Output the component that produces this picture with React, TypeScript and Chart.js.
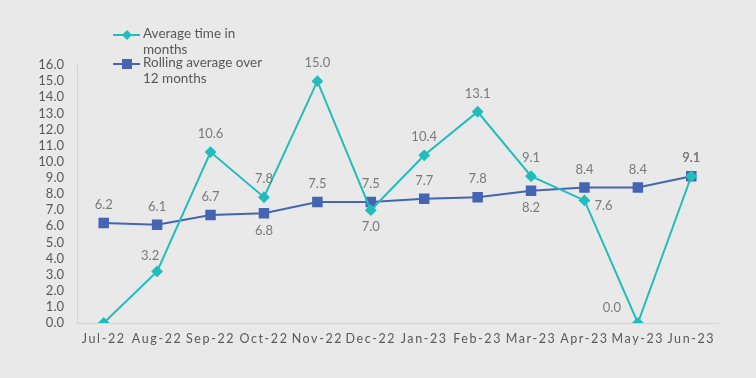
import React, { useEffect, useRef } from "react";
import { Chart, registerables, CategoryScale } from "chart.js";

Chart.register(...registerables);

class SpacedCategoryScale extends CategoryScale {
  static id = "spacedCategory";
  static defaults = (CategoryScale as any).defaults;
  drawLabels(chartArea: any) {
    const ctx = this.ctx as any;
    ctx.save();
    ctx.letterSpacing = "1.6px";
    super.drawLabels(chartArea);
    ctx.restore();
  }
}
Chart.register(SpacedCategoryScale as any);

const categories = ["Jul-22", "Aug-22", "Sep-22", "Oct-22", "Nov-22", "Dec-22", "Jan-23", "Feb-23", "Mar-23", "Apr-23", "May-23", "Jun-23"];
const averageTime = [0.0, 3.2, 10.6, 7.8, 15.0, 7.0, 10.4, 13.1, 9.1, 7.6, 0.0, 9.1];
const rollingAverage = [6.2, 6.1, 6.7, 6.8, 7.5, 7.5, 7.7, 7.8, 8.2, 8.4, 8.4, 9.1];
const legendLines = [["Average time in", "months"], ["Rolling average over", "12 months"]];

const avgLabelPos = ["none", "top-near", "top", "top", "top", "bottom", "top", "top", "top", "right", "top-left", "top"];
const rollLabelPos = ["top", "top", "top", "bottom", "top", "top", "top", "top", "bottom", "top", "top", "top"];

const TEAL = "#21BDBD";
const BLUE = "#4565B2";
const FONT = "Lato, 'Noto Sans', sans-serif";

const labelPlugin = {
  id: "pointLabels",
  afterDatasetsDraw(chart: any) {
    const ctx = chart.ctx;
    ctx.save();
    ctx.font = `13px ${FONT}`;
    ctx.fillStyle = "#7a7a7a";
    const posSets = [avgLabelPos, rollLabelPos];
    chart.data.datasets.forEach((ds: any, di: number) => {
      const meta = chart.getDatasetMeta(di);
      meta.data.forEach((pt: any, i: number) => {
        const pos = posSets[di][i];
        if (pos === "none") return;
        const txt = Number(ds.data[i]).toFixed(1);
        let x = pt.x, y = pt.y;
        ctx.textAlign = "center";
        ctx.textBaseline = "middle";
        if (pos === "top") { y -= 18; }
        else if (pos === "top-near") { x -= 7; y -= 16; }
        else if (pos === "bottom") { y += 17; }
        else if (pos === "top-left") { x -= 26; y -= 15; }
        else if (pos === "right") { ctx.textAlign = "left"; x += 10; y += 5; }
        ctx.fillText(txt, x, y);
      });
    });
    ctx.restore();
  },
};

const legendPlugin = {
  id: "customLegend",
  afterDraw(chart: any) {
    const ctx = chart.ctx;
    ctx.save();
    const items = [
      { color: TEAL, y: 35, marker: "diamond" },
      { color: BLUE, y: 64, marker: "square" },
    ];
    items.forEach((it, k) => {
      ctx.strokeStyle = it.color;
      ctx.fillStyle = it.color;
      ctx.lineWidth = 2;
      ctx.beginPath();
      ctx.moveTo(113, it.y);
      ctx.lineTo(140, it.y);
      ctx.stroke();
      if (it.marker === "diamond") {
        ctx.beginPath();
        ctx.moveTo(127, it.y - 5);
        ctx.lineTo(132, it.y);
        ctx.lineTo(127, it.y + 5);
        ctx.lineTo(122, it.y);
        ctx.closePath();
        ctx.fill();
      } else {
        ctx.fillRect(122, it.y - 5, 10, 10);
      }
      ctx.fillStyle = "#595959";
      ctx.font = `13.5px ${FONT}`;
      ctx.textAlign = "left";
      ctx.textBaseline = "middle";
      legendLines[k].forEach((line, j) => {
        ctx.fillText(line, 143, it.y - 1 + j * 15.5);
      });
    });
    ctx.restore();
  },
};

export default function App() {
  const ref = useRef<HTMLCanvasElement>(null);
  useEffect(() => {
    if (!ref.current) return;
    const chart = new Chart(ref.current, {
      type: "line",
      data: {
        labels: categories,
        datasets: [
          {
            label: "Average time in months",
            data: averageTime,
            borderColor: TEAL,
            backgroundColor: TEAL,
            borderWidth: 2,
            pointStyle: "rectRot",
            pointRadius: 4.5,
            pointHoverRadius: 4.5,
            tension: 0,
          },
          {
            label: "Rolling average over 12 months",
            data: rollingAverage,
            borderColor: BLUE,
            backgroundColor: BLUE,
            borderWidth: 2,
            pointStyle: "rect",
            pointRadius: 6,
            pointHoverRadius: 6,
            tension: 0,
          },
        ],
      },
      options: {
        animation: false,
        responsive: false,
        maintainAspectRatio: false,
        layout: { padding: { left: 0, right: 38, top: 65, bottom: 25 } },
        plugins: { legend: { display: false }, tooltip: { enabled: false } },
        scales: {
          x: {
            type: "spacedCategory" as any,
            offset: true,
            afterFit: (s: any) => { s.height = 30; },
            grid: { display: true, drawOnChartArea: false, drawTicks: false, color: "rgba(0,0,0,0)" },
            border: { display: true, color: "#d3d3d3", width: 1 },
            ticks: { color: "#595959", font: { family: FONT, size: 12.5 }, padding: 8, maxRotation: 0, autoSkip: false },
          },
          y: {
            min: 0,
            max: 16,
            afterFit: (s: any) => { s.width = 77; },
            grid: { display: true, drawOnChartArea: false, drawTicks: false, color: "rgba(0,0,0,0)" },
            border: { display: true, color: "#d3d3d3", width: 1 },
            ticks: {
              stepSize: 1,
              autoSkip: false,
              color: "#595959",
              font: { family: FONT, size: 13 },
              padding: 13,
              callback: (v: any) => Number(v).toFixed(1),
            },
          },
        },
      },
      plugins: [labelPlugin, legendPlugin],
    });
    return () => chart.destroy();
  }, []);
  return (
    <div style={{ position: "fixed", left: 0, top: 0, width: 756, height: 378, background: "#E9E9E9" }}>
      <canvas ref={ref} width={756} height={378} style={{ width: 756, height: 378, display: "block" }} />
    </div>
  );
}
